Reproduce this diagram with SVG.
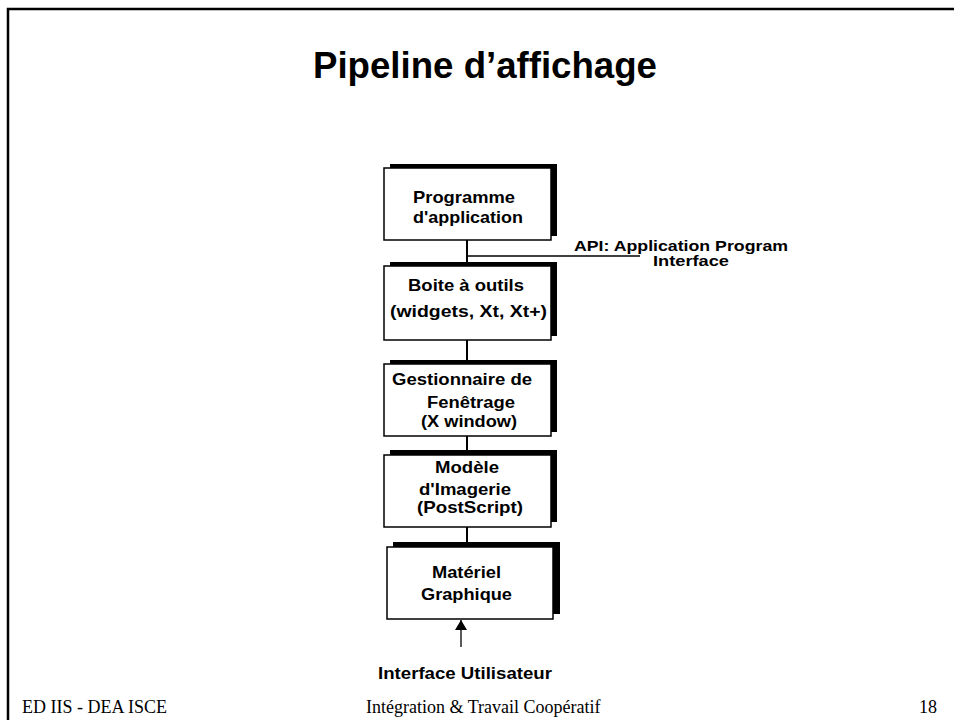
<svg xmlns="http://www.w3.org/2000/svg" width="954" height="720" viewBox="0 0 954 720">
  <style>
    .frame { fill: none; stroke: #000; stroke-width: 2.5; }
    .box { fill: #fff; stroke: #000; stroke-width: 1.5; }
    .shadow { fill: #000; }
    .wire { stroke: #000; stroke-width: 2; fill: none; }
    .thin { stroke: #000; stroke-width: 1.3; fill: none; }
    .lbl { font-family: "Liberation Sans", Arial, sans-serif; font-weight: bold; font-size: 17px; fill: #000; }
    .api { font-size: 15.5px; }
    .tight { font-size: 16px; }
    .title { font-family: "Liberation Sans", Arial, sans-serif; font-weight: bold; font-size: 36px; fill: #000; }
    .foot { font-family: "Liberation Serif", "Times New Roman", serif; font-size: 18px; fill: #000; }
  </style>
  <defs>
    <marker id="head" viewBox="0 0 10 12" refX="10" refY="6" markerWidth="10" markerHeight="12" markerUnits="userSpaceOnUse" orient="auto">
      <path d="M0,0 L10,6 L0,12 Z" fill="#000"/>
    </marker>
  </defs>

  <rect width="954" height="720" fill="#fff"/>

  <!-- slide frame: top and left edges -->
  <path class="frame" d="M8,720 V9 H954"/>

  <text class="title" x="313" y="78" textLength="344" lengthAdjust="spacingAndGlyphs">Pipeline d’affichage</text>

  <!-- connectors -->
  <g id="connectors">
    <line class="wire" x1="467" y1="240" x2="467" y2="266"/>
    <line class="thin" x1="467" y1="256" x2="640" y2="256"/>
    <line class="wire" x1="467" y1="340" x2="467" y2="364"/>
    <line class="wire" x1="467" y1="436" x2="467" y2="455"/>
    <line class="wire" x1="467" y1="527" x2="467" y2="547"/>
    <line class="thin" x1="461" y1="647" x2="461" y2="620" marker-end="url(#head)"/>
  </g>

  <g id="api-label">
    <text class="lbl api" x="574" y="250.5" textLength="214" lengthAdjust="spacingAndGlyphs">API: Application Program</text>
    <text class="lbl api" x="653" y="266" textLength="76" lengthAdjust="spacingAndGlyphs">Interface</text>
  </g>

  <g id="programme">
    <rect class="shadow" x="390" y="164" width="167" height="72"/>
    <rect class="box" x="384" y="168" width="167" height="72"/>
    <text class="lbl" x="413" y="203" textLength="102" lengthAdjust="spacingAndGlyphs">Programme</text>
    <text class="lbl" x="413" y="223" textLength="110" lengthAdjust="spacingAndGlyphs">d'application</text>
  </g>

  <g id="boite">
    <rect class="shadow" x="390" y="262" width="167" height="74"/>
    <rect class="box" x="384" y="266" width="167" height="74"/>
    <text class="lbl" x="408" y="291" textLength="116" lengthAdjust="spacingAndGlyphs">Boite à outils</text>
    <text class="lbl" x="390" y="317" textLength="157" lengthAdjust="spacingAndGlyphs">(widgets, Xt, Xt+)</text>
  </g>

  <g id="gestionnaire">
    <rect class="shadow" x="390" y="360" width="167" height="72"/>
    <rect class="box" x="384" y="364" width="167" height="72"/>
    <text class="lbl" x="392" y="385" textLength="140" lengthAdjust="spacingAndGlyphs">Gestionnaire de</text>
    <text class="lbl tight" x="427" y="408" textLength="88" lengthAdjust="spacingAndGlyphs">Fenêtrage</text>
    <text class="lbl tight" x="421" y="426.5" textLength="96" lengthAdjust="spacingAndGlyphs">(X window)</text>
  </g>

  <g id="modele">
    <rect class="shadow" x="390" y="450" width="167" height="72"/>
    <rect class="box" x="384" y="455" width="167" height="72"/>
    <text class="lbl" x="435" y="473" textLength="64" lengthAdjust="spacingAndGlyphs">Modèle</text>
    <text class="lbl" x="419" y="495" textLength="92" lengthAdjust="spacingAndGlyphs">d'Imagerie</text>
    <text class="lbl" x="417" y="513" textLength="106" lengthAdjust="spacingAndGlyphs">(PostScript)</text>
  </g>

  <g id="materiel">
    <rect class="shadow" x="393" y="542" width="167" height="72"/>
    <rect class="box" x="387" y="547" width="166" height="72"/>
    <text class="lbl" x="432" y="578" textLength="69" lengthAdjust="spacingAndGlyphs">Matériel</text>
    <text class="lbl" x="421" y="600" textLength="91" lengthAdjust="spacingAndGlyphs">Graphique</text>
  </g>

  <g id="interface-utilisateur">
    <text class="lbl" x="378" y="679" textLength="174" lengthAdjust="spacingAndGlyphs">Interface Utilisateur</text>
  </g>

  <!-- footer -->
  <text class="foot" x="22" y="713">ED IIS - DEA ISCE</text>
  <text class="foot" x="366" y="713">Intégration &amp; Travail Coopératif</text>
  <text class="foot" x="919" y="713">18</text>
</svg>
